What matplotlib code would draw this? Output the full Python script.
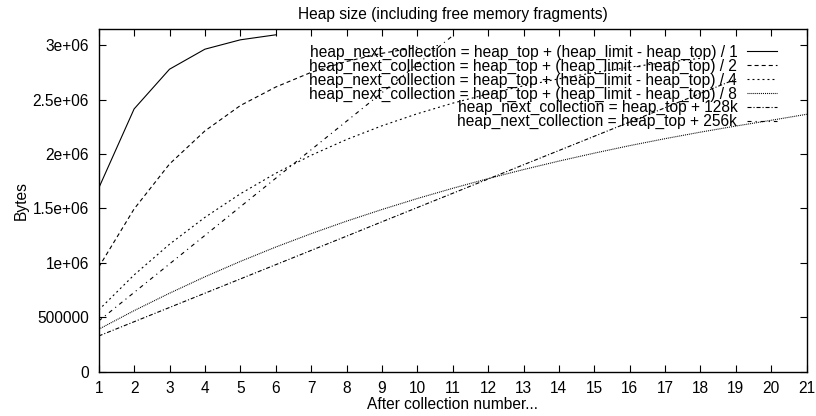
import matplotlib
matplotlib.use("Agg")
import matplotlib.pyplot as plt
from matplotlib.ticker import FixedLocator, FixedFormatter

plt.rcParams['font.family'] = ['Liberation Sans', 'DejaVu Sans']
plt.rcParams['lines.scale_dashes'] = False

# Heap size in bytes after each collection, one series per growth policy
div1_x = [1, 2, 3, 4, 5, 6]
div1_y = [1686000, 2414000, 2779000, 2963000, 3049000, 3095000]

div2_x = [1, 2, 3, 4, 5, 6, 7, 8, 9, 10]
div2_y = [960000, 1495000, 1908000, 2212000, 2445000, 2615000, 2750000,
          2850000, 2925000, 2980000]

div4_x = list(range(1, 19))
div4_y = [567000, 889000, 1171000, 1418000, 1634000, 1823000, 1988000,
          2133000, 2259000, 2370000, 2467000, 2552000, 2626000, 2691000,
          2748000, 2798000, 2841000, 2879000]

div8_x = list(range(1, 22))
div8_y = [390000, 561000, 721000, 872000, 1013000, 1145000, 1268000,
          1383000, 1490000, 1591000, 1685000, 1774000, 1857000, 1935000,
          2008000, 2077000, 2141000, 2201000, 2257000, 2310000, 2365000]

k128_x = list(range(1, 20))
k128_y = [328000, 459000, 590000, 721000, 852000, 983000, 1114000,
          1245000, 1377000, 1508000, 1639000, 1770000, 1901000, 2032000,
          2163000, 2294000, 2425000, 2557000, 2688000]

k256_x = list(range(1, 12))
k256_y = [466000, 728000, 990000, 1252000, 1515000, 1777000, 2039000,
          2301000, 2563000, 2825000, 3087000]

labels = [
    "heap_next_collection = heap_top + (heap_limit - heap_top) / 1",
    "heap_next_collection = heap_top + (heap_limit - heap_top) / 2",
    "heap_next_collection = heap_top + (heap_limit - heap_top) / 4",
    "heap_next_collection = heap_top + (heap_limit - heap_top) / 8",
    "heap_next_collection = heap_top + 128k",
    "heap_next_collection = heap_top + 256k",
]

heap_limit = 3145728
x_ticks = list(range(1, 22))
y_ticks = [0, 500000, 1000000, 1500000, 2000000, 2500000, 3000000]
y_tick_labels = ["0", "500000", "1e+06", "1.5e+06", "2e+06", "2.5e+06", "3e+06"]

FS = 11.2

fig = plt.figure(figsize=(8.16, 4.16), dpi=100)
ax = fig.add_axes([98.7 / 816, (416 - 371.7) / 416, 708 / 816, 342.4 / 416])

lw = 0.8
styles = [
    dict(linestyle='-'),
    dict(linestyle=(0, (2.9, 2.2))),
    dict(linestyle=(0, (1.4, 2.2))),
    dict(linestyle=(0, (0.7, 0.7))),
    dict(linestyle=(0, (2.9, 1.4, 0.8, 1.4))),
    dict(linestyle=(0, (2.9, 2.9, 0.8, 2.9))),
]
series = [(div1_x, div1_y), (div2_x, div2_y), (div4_x, div4_y),
          (div8_x, div8_y), (k128_x, k128_y), (k256_x, k256_y)]

for (xs, ys), st, lab in zip(series, styles, labels):
    ax.plot(xs, ys, color='black', linewidth=lw, label=lab, **st)

ax.set_xlim(1, 21)
ax.set_ylim(0, heap_limit)
ax.xaxis.set_major_locator(FixedLocator(x_ticks))
ax.xaxis.set_major_formatter(FixedFormatter([str(v) for v in x_ticks]))
ax.yaxis.set_major_locator(FixedLocator(y_ticks))
ax.yaxis.set_major_formatter(FixedFormatter(y_tick_labels))
ax.tick_params(direction='in', length=4.7, width=0.8, top=True, right=True,
               labelsize=FS, colors='black')
ax.tick_params(axis='x', pad=7.0)
ax.tick_params(axis='y', pad=7.0)
for sp in ax.spines.values():
    sp.set_linewidth(1.0)

ax.set_title("Heap size (including free memory fragments)", fontsize=FS, pad=7.5)
ax.set_xlabel("After collection number...", fontsize=FS, labelpad=0.5)
ax.set_ylabel("Bytes", fontsize=FS, labelpad=3)

leg = ax.legend(loc='upper right', bbox_to_anchor=(0.958, 0.955),
                frameon=False, markerfirst=False, fontsize=FS,
                borderpad=0, borderaxespad=0, handlelength=1.9,
                handletextpad=0.65, labelspacing=-0.08)
for col in leg._legend_handle_box.get_children():
    col.align = 'right'

fig.savefig("out.png", dpi=100)
